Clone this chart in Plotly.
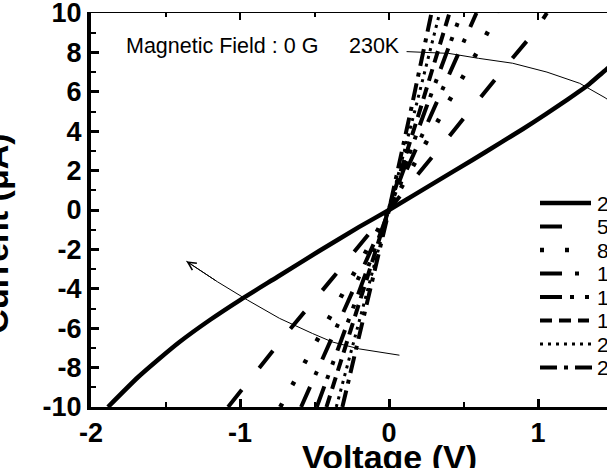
import plotly.graph_objects as go

# ---- data (Voltage in V, Current in uA) ----
temps = ["20K", "50K", "80K", "110K", "140K", "170K", "200K", "230K"]

v_20 = [-1.886, -1.685, -1.55, -1.406, -1.2, -1.0, -0.75, -0.466, -0.2, 0.0,
        0.326, 0.56, 0.75, 0.896, 1.05, 1.2, 1.345, 1.46, 1.55]
i_20 = [-10.0, -8.49, -7.6, -6.7, -5.57, -4.57, -3.4, -2.07, -0.86, 0.0,
        1.48, 2.54, 3.42, 4.1, 4.85, 5.62, 6.4, 7.15, 7.65]

v_50 = [-1.08, -0.87, -0.68, -0.4, 0.0, 0.4, 0.79, 0.977, 1.06]
i_50 = [-10.0, -8.0, -6.2, -3.65, 0.0, 3.7, 7.36, 9.04, 10.0]

v_80 = [-0.73, -0.433, 0.0, 0.4, 0.587, 0.73]
i_80 = [-10.0, -5.9, 0.0, 5.5, 7.95, 10.0]

v_110 = [-0.59, -0.3, 0.0, 0.3, 0.587]
i_110 = [-10.0, -5.1, 0.0, 5.1, 10.0]

v_140 = [-0.485, -0.24, 0.0, 0.24, 0.486]
i_140 = [-10.0, -5.0, 0.0, 5.0, 10.0]

v_170 = [-0.42, -0.21, 0.0, 0.205, 0.406]
i_170 = [-10.0, -5.0, 0.0, 5.0, 10.0]

v_200 = [-0.354, -0.175, 0.0, 0.172, 0.34]
i_200 = [-10.0, -5.0, 0.0, 5.0, 10.0]

v_230 = [-0.313, -0.155, 0.0, 0.145, 0.285]
i_230 = [-10.0, -5.0, 0.0, 5.0, 10.0]

# guide arrows (curved thin lines)
arrow_top_v = [0.118, 0.4, 0.6, 0.83, 1.06, 1.28, 1.45, 1.6]
arrow_top_i = [8.04, 7.95, 7.7, 7.45, 7.0, 6.43, 5.7, 4.9]
arrow_bot_v = [0.07, -0.2, -0.38, -0.513, -0.735, -0.95, -1.15, -1.36]
arrow_bot_i = [-7.37, -7.05, -6.7, -6.27, -5.5, -4.57, -3.65, -2.6]

x_ticks = [-2, -1, 0, 1]
y_ticks = [-10, -8, -6, -4, -2, 0, 2, 4, 6, 8, 10]

# line styles per temperature
dashes = ["solid", "22px,28px", "4px,21px", "22px,13px,4px,13px",
          "22px,8px,4px,11px,4px,11px", "12px,7px", "3px,5px", "17px,7px,4px,7px"]
widths = [4.5, 4, 4.5, 4, 4, 4, 3, 4]
key_end = [591, 563, 570, 581, 591, 589, 592, 592]   # right end of each key line (px)
series = [(v_20, i_20), (v_50, i_50), (v_80, i_80), (v_110, i_110),
          (v_140, i_140), (v_170, i_170), (v_200, i_200), (v_230, i_230)]

FONT = "Liberation Sans, Arial, sans-serif"

fig = go.Figure()
for k, (name, (v, i)) in enumerate(zip(temps, series)):
    fig.add_trace(go.Scatter(x=v, y=i, mode="lines", name=name, showlegend=False,
                             line=dict(color="black", width=widths[k], dash=dashes[k],
                                       shape="spline" if k == 0 else "linear", smoothing=0.6)))

fig.add_trace(go.Scatter(x=arrow_top_v, y=arrow_top_i, mode="lines", showlegend=False,
                         xaxis="x2", line=dict(color="black", width=1), hoverinfo="skip"))
fig.add_trace(go.Scatter(x=arrow_bot_v, y=arrow_bot_i, mode="lines", showlegend=False,
                         line=dict(color="black", width=1), hoverinfo="skip"))

# arrowhead at the end of the lower guide line
fig.add_annotation(x=arrow_bot_v[-1], y=arrow_bot_i[-1], ax=arrow_bot_v[-2], ay=arrow_bot_i[-2],
                   xref="x", yref="y", axref="x", ayref="y", text="", showarrow=True,
                   arrowhead=5, arrowsize=1.6, arrowwidth=1, arrowcolor="black", standoff=0)

fig.add_annotation(x=-1.78, y=8.3, xref="x", yref="y", text="Magnetic Field : 0 G",
                   showarrow=False, xanchor="left", yanchor="middle",
                   font=dict(family=FONT, size=21.5, color="black"))
fig.add_annotation(x=-0.28, y=8.3, xref="x", yref="y", text="230K",
                   showarrow=False, xanchor="left", yanchor="middle",
                   font=dict(family=FONT, size=21.5, color="black"))

# legend drawn by hand so that the key lines are as long as in the original
L, T, PW, PH = 91.0, 13.0, 516.0, 394.0
for k, name in enumerate(temps):
    yp = (T + PH - (203 + 23.5 * k)) / PH
    fig.add_shape(type="line", xref="paper", yref="paper",
                  x0=(540 - L) / PW, x1=(key_end[k] - L) / PW, y0=yp, y1=yp,
                  line=dict(color="black", width=widths[k], dash=dashes[k]))
    fig.add_annotation(x=(595 - L) / PW, y=yp, xref="paper", yref="paper", text=name,
                       showarrow=False, xanchor="left", yanchor="middle",
                       font=dict(family=FONT, size=21, color="black"))

xr = [-2, -2 + PW / 149.0]

fig.update_layout(
    width=607, height=468,
    margin=dict(l=91, r=0, t=13, b=61, autoexpand=False),
    paper_bgcolor="white", plot_bgcolor="white",
    showlegend=False,
    xaxis=dict(range=xr, tickvals=x_ticks, ticktext=[str(t) for t in x_ticks],
               showline=True, linewidth=3, linecolor="black",
               ticks="inside", ticklen=8, tickwidth=2.5, tickcolor="black",
               minor=dict(ticks="inside", ticklen=5, tickwidth=2, dtick=0.5, tickcolor="black", showgrid=False),
               showgrid=False, zeroline=False, ticklabeloverflow="allow",
               tickfont=dict(family=FONT, size=27, color="black", weight="bold")),
    xaxis2=dict(range=xr, overlaying="x", side="top", showline=True, linewidth=1.2,
                linecolor="black", ticks="inside", ticklen=7, tickwidth=2, tickcolor="black",
                tickvals=x_ticks, showticklabels=False,
                minor=dict(ticks="inside", ticklen=4, tickwidth=2, dtick=0.5, tickcolor="black"),
                showgrid=False, zeroline=False),
    yaxis=dict(range=[-10, 10], tickvals=y_ticks, ticktext=[str(t) for t in y_ticks],
               showline=True, linewidth=4, linecolor="black",
               ticks="inside", ticklen=8, tickwidth=2.5, tickcolor="black",
               minor=dict(ticks="inside", ticklen=5, tickwidth=2, dtick=1, tickcolor="black", showgrid=False),
               showgrid=False, zeroline=False, ticklabeloverflow="allow",
               tickfont=dict(family=FONT, size=27, color="black", weight="bold")),
)

fig.add_annotation(x=0.0, y=-10, xref="x", yref="y", yshift=-29, text="Voltage (V)",
                   showarrow=False, xanchor="center", yanchor="top",
                   font=dict(family=FONT, size=34, color="black", weight="bold"))
fig.add_annotation(x=0, y=-1.2, xref="paper", yref="y", xshift=-95, text="Current (μA)",
                   showarrow=False, textangle=-90, xanchor="center", yanchor="middle",
                   font=dict(family=FONT, size=34, color="black", weight="bold"))

fig.write_html("out.html", config={"displayModeBar": False},
               post_script="document.body.style.margin='0';document.body.style.overflow='hidden';")
